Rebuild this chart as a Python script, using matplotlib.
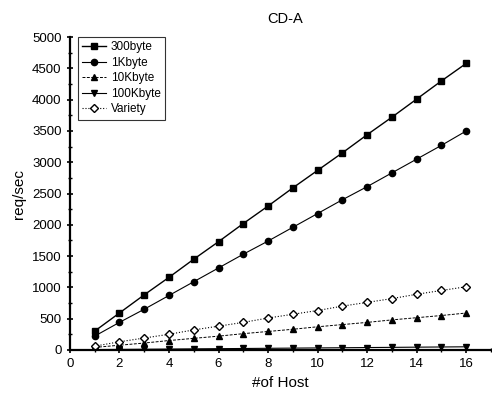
import numpy as np
import matplotlib.pyplot as plt
from matplotlib.ticker import MultipleLocator

plt.rcParams['font.family'] = ['Liberation Sans', 'DejaVu Sans']

hosts = np.arange(1, 17)
b300 = [300, 590, 880, 1160, 1450, 1730, 2020, 2300, 2590, 2870, 3150, 3440, 3720, 4010, 4300, 4580]
k1 = [220, 440, 650, 870, 1090, 1310, 1530, 1740, 1960, 2180, 2400, 2610, 2830, 3050, 3270, 3500]
k10 = [40, 75, 110, 150, 185, 220, 260, 295, 330, 370, 405, 440, 480, 515, 550, 590]
k100 = [5, 8, 11, 14, 17, 20, 23, 26, 29, 32, 35, 38, 41, 44, 47, 50]
variety = [60, 130, 190, 250, 320, 380, 440, 510, 570, 630, 700, 760, 820, 890, 950, 1010]

fig = plt.figure(figsize=(4.92, 3.99), dpi=100)
ax = fig.add_axes([0.142, 0.123, 0.856, 0.784])

ax.plot(hosts, b300, '-', color='black', lw=1.0, marker='s', ms=4.5, label='300byte')
ax.plot(hosts, k1, '-', color='black', lw=0.8, marker='o', ms=4.5, label='1Kbyte')
ax.plot(hosts, k10, '--', color='black', lw=0.7, dashes=(3, 1.5), marker='^', ms=4.5, label='10Kbyte')
ax.plot(hosts, k100, '-', color='black', lw=0.8, marker='v', ms=4.5, label='100Kbyte')
ax.plot(hosts, variety, ':', color='black', lw=0.8, marker='D', ms=4, mfc='white', mew=1.0, label='Variety')

ax.set_xlim(0, 17)
ax.set_ylim(0, 5000)
ax.set_xticks(np.arange(0, 17, 2))
ax.xaxis.set_minor_locator(MultipleLocator(1))
ax.yaxis.set_major_locator(MultipleLocator(500))
ax.yaxis.set_minor_locator(MultipleLocator(250))
ax.tick_params(axis='both', which='major', length=5, width=1.2, labelsize=9.5, direction='inout')
ax.tick_params(axis='both', which='minor', length=3, width=1.0, direction='inout')
for s in ['top', 'right']:
    ax.spines[s].set_visible(False)
for s in ['left', 'bottom']:
    ax.spines[s].set_linewidth(1.6)

ax.set_title('CD-A', fontsize=10.5, pad=10, x=0.51)
ax.set_xlabel('#of Host', fontsize=11)
ax.set_ylabel('req/sec', fontsize=11)

leg = ax.legend(loc='upper left', fontsize=8.5, frameon=True, fancybox=False,
                edgecolor='black', handlelength=2.0, borderpad=0.35, labelspacing=0.3,
                handletextpad=0.4, borderaxespad=0, bbox_to_anchor=(0.02, 1.0))
leg.get_frame().set_linewidth(0.8)

fig.savefig('out.png', dpi=100)
